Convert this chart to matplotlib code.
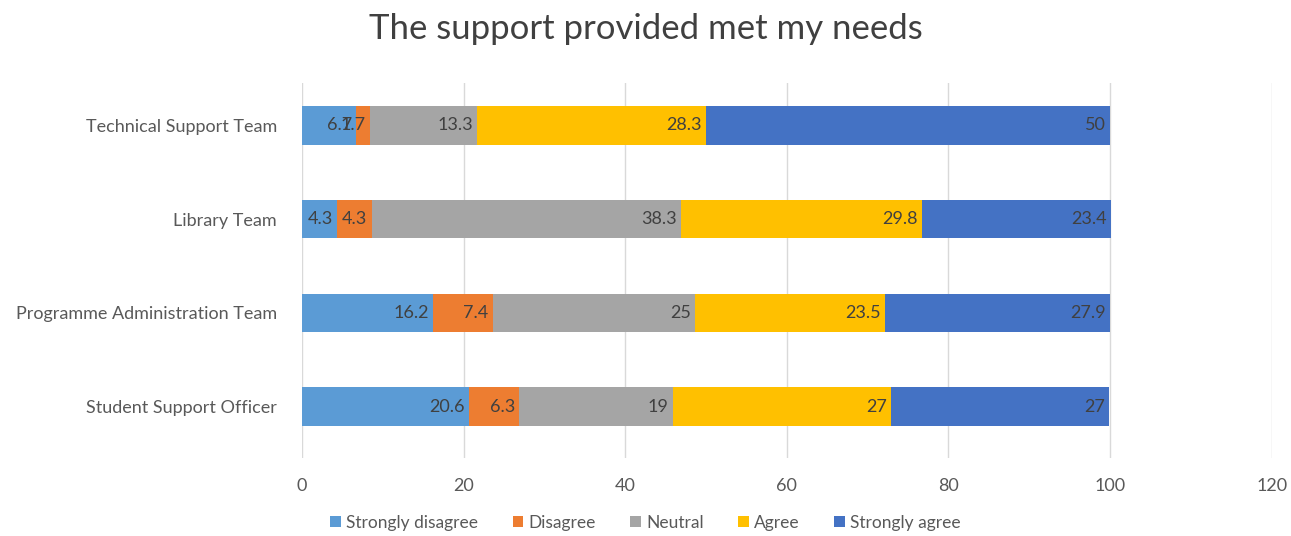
import numpy as np
from matplotlib import pyplot as plt

plt.rcParams['font.family'] = ['Lato', 'DejaVu Sans']

teams = ["Student Support Officer", "Programme Administration Team",
         "Library Team", "Technical Support Team"]
responses = ["Strongly disagree", "Disagree", "Neutral", "Agree", "Strongly agree"]

strongly_disagree = [20.6, 16.2, 4.3, 6.7]
disagree = [6.3, 7.4, 4.3, 1.7]
neutral = [19, 25, 38.3, 13.3]
agree = [27, 23.5, 29.8, 28.3]
strongly_agree = [27, 27.9, 23.4, 50]

series = [strongly_disagree, disagree, neutral, agree, strongly_agree]
colors = ["#5B9BD5", "#ED7D31", "#A5A5A5", "#FFC000", "#4472C4"]

fig = plt.figure(figsize=(12.91, 5.36), dpi=100)
ax = fig.add_axes([0.234, 0.145, 0.751, 0.70])

y = np.arange(len(teams))
left = np.zeros(len(teams))
for name, vals, col in zip(responses, series, colors):
    vals = np.array(vals)
    ax.barh(y, vals, left=left, height=0.41, color=col, label=name, zorder=2)
    # value labels sit inside the end of each segment
    for yi, l, v in zip(y, left, vals):
        ax.annotate(f"{v:g}", (l + v, yi), xytext=(-3, 0), textcoords="offset points",
                    ha="right", va="center", fontsize=13, color="#404040", zorder=3)
    left += vals

ax.set_xlim(0, 120)
ax.set_ylim(-0.55, 3.45)
ax.set_xticks(range(0, 121, 20))
ax.set_yticks(y)
ax.set_yticklabels(teams)
ax.tick_params(axis="both", length=0, labelsize=13, labelcolor="#595959")
ax.tick_params(axis="x", pad=14)
ax.tick_params(axis="y", pad=18)
ax.grid(axis="x", color="#D9D9D9", linewidth=1, zorder=0)
for s in ax.spines.values():
    s.set_visible(False)

fig.suptitle("The support provided met my needs", y=0.975, fontsize=25, color="#404040")
fig.legend(loc="lower center", bbox_to_anchor=(0.5, -0.02), ncol=5, frameon=False,
           fontsize=12.5, labelcolor="#595959", handlelength=0.6, handleheight=0.6,
           handletextpad=0.3, columnspacing=2.0)

fig.savefig("out.png", dpi=100)
